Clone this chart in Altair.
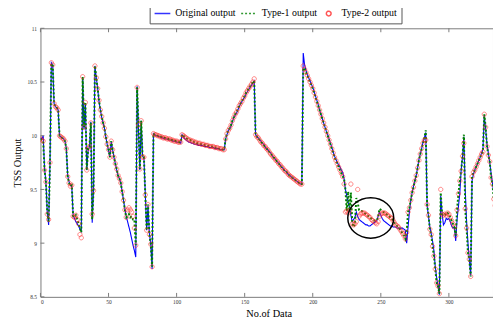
import altair as alt
import pandas as pd

# ---------------- data ----------------
x_values = list(range(335))

original = [
    9.98, 9.97, 10.00, 9.70, 9.57, 9.29, 9.17, 9.75, 10.68, 10.66,
    10.30, 10.27, 10.26, 10.24, 10.00, 9.99, 9.98, 9.97, 9.95, 9.88,
    9.63, 9.57, 9.54, 9.53, 9.26, 9.23, 9.20, 9.18, 9.16, 9.13,
    9.11, 10.54, 10.06, 10.30, 9.68, 9.86, 9.90, 10.13, 9.19, 9.50,
    10.65, 10.54, 10.44, 10.32, 10.24, 10.17, 10.12, 10.07, 9.99, 9.92,
    9.86, 9.81, 9.94, 9.87, 9.80, 9.74, 9.68, 9.63, 9.60, 9.56,
    9.48, 9.40, 9.32, 9.25, 9.20, 9.15, 9.10, 9.04, 8.98, 8.93,
    8.87, 10.46, 10.06, 9.68, 10.14, 9.81, 9.79, 9.46, 9.12, 9.35,
    9.09, 8.99, 8.76, 10.02, 10.01, 10.00, 10.00, 9.99, 9.99, 9.98,
    9.98, 9.97, 9.97, 9.97, 9.96, 9.96, 9.96, 9.95, 9.95, 9.95,
    9.94, 9.94, 9.94, 9.93, 10.01, 9.99, 9.97, 9.96, 9.95, 9.94,
    9.94, 9.93, 9.93, 9.92, 9.92, 9.92, 9.91, 9.91, 9.91, 9.91,
    9.90, 9.90, 9.90, 9.90, 9.89, 9.89, 9.89, 9.89, 9.88, 9.88,
    9.88, 9.88, 9.87, 9.87, 9.87, 9.87, 9.97, 10.01, 10.05, 10.07,
    10.09, 10.13, 10.17, 10.19, 10.21, 10.24, 10.27, 10.30, 10.32, 10.34,
    10.36, 10.39, 10.41, 10.43, 10.45, 10.47, 10.49, 10.51, 10.01, 9.99,
    9.98, 9.96, 9.95, 9.93, 9.92, 9.90, 9.88, 9.87, 9.85, 9.84,
    9.82, 9.80, 9.79, 9.77, 9.76, 9.74, 9.73, 9.71, 9.70, 9.68,
    9.67, 9.66, 9.64, 9.63, 9.62, 9.61, 9.60, 9.59, 9.58, 9.57,
    9.56, 9.55, 9.55, 10.77, 10.66, 10.61, 10.57, 10.54, 10.51, 10.48,
    10.45, 10.41, 10.37, 10.33, 10.29, 10.24, 10.20, 10.16, 10.12, 10.08,
    10.04, 10.01, 9.97, 9.93, 9.89, 9.85, 9.81, 9.78, 9.75, 9.73,
    9.71, 9.68, 9.66, 9.60, 9.50, 9.44, 9.38, 9.33, 9.26, 9.20,
    9.22, 9.24, 9.29, 9.25, 9.22, 9.21, 9.20, 9.19, 9.18, 9.17,
    9.17, 9.16, 9.16, 9.17, 9.18, 9.19, 9.20, 9.21, 9.25, 9.29,
    9.26, 9.23, 9.21, 9.20, 9.19, 9.18, 9.17, 9.16, 9.16, 9.15,
    9.15, 9.15, 9.14, 9.14, 9.14, 9.14, 9.14, 9.13, 9.12, 9.00,
    9.15, 9.29, 9.40, 9.47, 9.53, 9.58, 9.63, 9.70, 9.78, 9.83,
    9.88, 9.94, 9.98, 10.03, 9.35, 9.25, 9.15, 9.09, 9.02, 8.93,
    8.78, 8.68, 8.60, 8.52, 9.44, 9.28, 9.17, 9.19, 9.23, 9.22,
    9.23, 9.20, 9.16, 9.14, 9.15, 9.02, 9.22, 9.34, 9.46, 9.68,
    9.80, 9.99, 9.50, 9.20, 9.00, 8.85, 8.70, 9.58, 9.64, 9.68,
    9.71, 9.74, 9.77, 9.80, 9.84, 9.87, 10.19, 10.06, 9.92, 9.84,
    9.75, 9.65, 9.56, 9.46, 9.38,
]

type1 = [
    9.97, 9.96, 9.95, 9.68, 9.57, 9.28, 9.20, 9.75, 10.67, 10.66,
    10.30, 10.27, 10.26, 10.24, 10.00, 9.99, 9.98, 9.97, 9.95, 9.88,
    9.62, 9.56, 9.53, 9.54, 9.25, 9.24, 9.26, 9.22, 9.18, 9.14,
    9.10, 10.55, 10.08, 10.31, 9.68, 9.88, 9.90, 10.12, 9.22, 9.49,
    10.65, 10.54, 10.44, 10.33, 10.24, 10.18, 10.12, 10.07, 9.99, 9.92,
    9.87, 9.80, 9.95, 9.87, 9.80, 9.74, 9.69, 9.63, 9.60, 9.56,
    9.48, 9.40, 9.31, 9.24, 9.25, 9.27, 9.24, 9.25, 9.22, 9.22,
    8.98, 10.45, 10.10, 9.69, 10.14, 9.80, 9.80, 9.45, 9.12, 9.36,
    9.08, 8.99, 8.78, 10.02, 10.01, 10.01, 10.00, 10.00, 9.99, 9.99,
    9.98, 9.98, 9.98, 9.97, 9.97, 9.97, 9.96, 9.96, 9.95, 9.95,
    9.95, 9.94, 9.94, 9.94, 10.01, 10.00, 9.99, 9.98, 9.97, 9.96,
    9.96, 9.95, 9.95, 9.94, 9.94, 9.93, 9.93, 9.93, 9.92, 9.92,
    9.92, 9.91, 9.91, 9.91, 9.90, 9.90, 9.90, 9.90, 9.89, 9.89,
    9.89, 9.88, 9.88, 9.88, 9.87, 9.87, 9.97, 10.02, 10.05, 10.07,
    10.10, 10.14, 10.17, 10.20, 10.22, 10.25, 10.28, 10.30, 10.32, 10.35,
    10.37, 10.40, 10.42, 10.44, 10.46, 10.48, 10.50, 10.51, 10.01, 9.99,
    9.98, 9.96, 9.94, 9.93, 9.91, 9.90, 9.88, 9.87, 9.85, 9.83,
    9.82, 9.80, 9.79, 9.77, 9.76, 9.74, 9.73, 9.71, 9.70, 9.68,
    9.67, 9.66, 9.64, 9.63, 9.62, 9.61, 9.60, 9.59, 9.58, 9.57,
    9.56, 9.55, 9.55, 10.63, 10.62, 10.59, 10.56, 10.53, 10.50, 10.47,
    10.44, 10.40, 10.36, 10.32, 10.28, 10.24, 10.20, 10.16, 10.12, 10.08,
    10.04, 10.00, 9.96, 9.92, 9.88, 9.84, 9.80, 9.77, 9.74, 9.71,
    9.68, 9.65, 9.62, 9.60, 9.50, 9.30, 9.48, 9.29, 9.47, 9.20,
    9.15, 9.18, 9.42, 9.38, 9.31, 9.30, 9.30, 9.29, 9.28, 9.27,
    9.26, 9.25, 9.24, 9.23, 9.22, 9.21, 9.21, 9.21, 9.24, 9.32,
    9.31, 9.30, 9.29, 9.28, 9.27, 9.26, 9.25, 9.24, 9.23, 9.21,
    9.19, 9.17, 9.16, 9.15, 9.13, 9.11, 9.09, 9.07, 9.04, 9.10,
    9.29, 9.33, 9.40, 9.47, 9.52, 9.58, 9.63, 9.70, 9.77, 9.83,
    9.88, 9.93, 9.98, 10.05, 9.36, 9.26, 9.13, 9.08, 8.97, 8.88,
    8.76, 8.63, 8.60, 8.53, 9.47, 9.27, 9.26, 9.27, 9.26, 9.28,
    9.27, 9.24, 9.21, 9.18, 9.15, 9.07, 9.31, 9.46, 9.58, 9.67,
    9.81, 10.01, 9.32, 9.14, 8.91, 8.85, 8.69, 9.62, 9.66, 9.68,
    9.71, 9.74, 9.77, 9.80, 9.83, 9.85, 10.20, 10.08, 9.90, 9.82,
    9.76, 9.61, 9.55, 9.41, 9.35,
]

type2 = [
    9.97, 9.96, 9.95, 9.68, 9.57, 9.27, 9.22, 9.75, 10.68, 10.66,
    10.30, 10.27, 10.26, 10.24, 10.00, 9.99, 9.98, 9.97, 9.95, 9.88,
    9.62, 9.56, 9.53, 9.54, 9.25, 9.24, 9.26, 9.22, 9.18, 9.08,
    9.05, 10.55, 10.08, 10.31, 9.68, 9.88, 9.90, 10.12, 9.27, 9.49,
    10.65, 10.54, 10.44, 10.33, 10.24, 10.18, 10.12, 10.07, 9.99, 9.92,
    9.87, 9.80, 9.95, 9.87, 9.80, 9.74, 9.69, 9.63, 9.60, 9.56,
    9.48, 9.40, 9.31, 9.24, 9.31, 9.33, 9.31, 9.29, 9.25, 9.14,
    8.98, 10.45, 10.10, 9.69, 10.14, 9.80, 9.80, 9.45, 9.12, 9.36,
    9.08, 8.99, 8.78, 10.02, 10.01, 10.01, 10.00, 10.00, 9.99, 9.99,
    9.98, 9.98, 9.98, 9.97, 9.97, 9.97, 9.96, 9.96, 9.95, 9.95,
    9.95, 9.94, 9.94, 9.94, 10.01, 10.00, 9.99, 9.98, 9.97, 9.96,
    9.96, 9.95, 9.95, 9.94, 9.94, 9.93, 9.93, 9.93, 9.92, 9.92,
    9.92, 9.91, 9.91, 9.91, 9.90, 9.90, 9.90, 9.90, 9.89, 9.89,
    9.89, 9.88, 9.88, 9.88, 9.87, 9.87, 9.97, 10.02, 10.05, 10.07,
    10.10, 10.14, 10.17, 10.20, 10.22, 10.25, 10.28, 10.30, 10.32, 10.35,
    10.37, 10.40, 10.42, 10.44, 10.46, 10.48, 10.50, 10.53, 10.01, 9.99,
    9.98, 9.96, 9.94, 9.93, 9.91, 9.90, 9.88, 9.87, 9.85, 9.83,
    9.82, 9.80, 9.79, 9.77, 9.76, 9.74, 9.73, 9.71, 9.70, 9.68,
    9.67, 9.66, 9.64, 9.63, 9.62, 9.61, 9.60, 9.59, 9.58, 9.57,
    9.56, 9.55, 9.55, 10.65, 10.62, 10.59, 10.56, 10.53, 10.50, 10.47,
    10.44, 10.40, 10.36, 10.32, 10.28, 10.24, 10.20, 10.16, 10.12, 10.08,
    10.04, 10.00, 9.96, 9.92, 9.88, 9.84, 9.80, 9.77, 9.74, 9.71,
    9.68, 9.65, 9.62, 9.55, 9.29, 9.30, 9.28, 9.30, 9.55, 9.18,
    9.17, 9.18, 9.20, 9.50, 9.25, 9.27, 9.28, 9.28, 9.28, 9.27,
    9.26, 9.25, 9.24, 9.22, 9.21, 9.20, 9.19, 9.18, 9.20, 9.25,
    9.27, 9.28, 9.28, 9.28, 9.27, 9.26, 9.25, 9.24, 9.23, 9.21,
    9.19, 9.17, 9.16, 9.15, 9.13, 9.11, 9.09, 9.07, 9.04, 9.10,
    9.29, 9.33, 9.40, 9.47, 9.52, 9.58, 9.63, 9.70, 9.77, 9.83,
    9.88, 9.93, 9.96, 9.96, 9.36, 9.26, 9.13, 9.08, 8.97, 8.88,
    8.76, 8.63, 8.60, 8.53, 9.50, 9.27, 9.26, 9.27, 9.26, 9.28,
    9.27, 9.24, 9.21, 9.18, 9.15, 9.07, 9.31, 9.46, 9.58, 9.67,
    9.81, 9.93, 9.32, 9.14, 8.91, 8.85, 8.69, 9.62, 9.66, 9.68,
    9.71, 9.74, 9.77, 9.80, 9.83, 9.85, 10.20, 10.08, 9.90, 9.82,
    9.76, 9.61, 9.55, 9.41, 9.35,
]

series_names = ["Original output", "Type-1 output", "Type-2 output"]
series_colors = ["#0000ff", "#008000", "#ff2a2a"]

x_ticks = [0, 50, 100, 150, 200, 250, 300]
y_ticks = [8.5, 9, 9.5, 10, 10.5, 11]

# highlighted region (ellipse annotation)
circle_x = [242.6]
circle_y = [9.234]

# ---------------- layout ----------------
W, H = 460, 273
FONT = "Liberation Serif"
GRAY = "#7a7a7a"

xs = alt.Scale(domain=[0, 332.4], nice=False, zero=False)
ys = alt.Scale(domain=[8.5, 11], nice=False, zero=False)

df_orig = pd.DataFrame({"x": x_values, "y": original, "series": series_names[0]})
df_t1 = pd.DataFrame({"x": x_values, "y": type1, "series": series_names[1]})
df_t2 = pd.DataFrame({"x": x_values, "y": type2, "series": series_names[2]})
df_xt = pd.DataFrame({"t": x_ticks})
df_yt = pd.DataFrame({"t": y_ticks})
df_circ = pd.DataFrame({"cx": circle_x, "cy": circle_y})

small_circle = "M -0.3 0 A 0.3 0.3 0 1 1 0.3 0 A 0.3 0.3 0 1 1 -0.3 0 Z"

leg = alt.Legend(
    title=None, orient="none", legendX=111, legendY=-28,
    direction="horizontal", strokeColor="#555555", padding=4,
    gridAlign="none",
    labelFont=FONT, labelFontSize=10, labelColor="black",
    labelOffset=4, columnPadding=2, symbolSize=256, symbolStrokeWidth=1.5,
)

color = alt.Color("series:N", scale=alt.Scale(domain=series_names, range=series_colors), legend=leg)
dash = alt.StrokeDash("series:N", scale=alt.Scale(domain=series_names, range=[[1, 0], [2, 2], [1, 0]]), legend=leg)
shape = alt.Shape("series:N", scale=alt.Scale(domain=series_names, range=["stroke", "stroke", small_circle]), legend=leg)

x_axis = alt.Axis(
    values=x_ticks, title="No.of Data", domain=False, ticks=False, grid=False,
    labelFont=FONT, labelFontSize=5.5, labelColor="#333333", labelPadding=3,
    titleFont=FONT, titleFontSize=10.5, titleFontWeight="normal", titleColor="black",
    titleX=232, titleY=20, titleBaseline="alphabetic",
)
y_axis = alt.Axis(
    values=y_ticks, title="TSS Output", domain=False, ticks=False, grid=False,
    labelFont=FONT, labelFontSize=5.5, labelColor="#333333", labelPadding=4,
    labelExpr="'' + datum.value",
    titleFont=FONT, titleFontSize=10.5, titleFontWeight="normal", titleColor="black",
    titleX=-20, titleBaseline="alphabetic",
)

orig_line = alt.Chart(df_orig).mark_line(strokeWidth=1.1, clip=True).encode(
    x=alt.X("x:Q", scale=xs, axis=x_axis),
    y=alt.Y("y:Q", scale=ys, axis=y_axis),
    color=color, strokeDash=dash,
)
t1_line = alt.Chart(df_t1).mark_line(strokeWidth=2, clip=True).encode(
    x=alt.X("x:Q", scale=xs), y=alt.Y("y:Q", scale=ys),
    color=color, strokeDash=dash,
)
t2_pts = alt.Chart(df_t2).mark_point(filled=False, size=210, strokeWidth=0.7, opacity=0.8, clip=True).encode(
    x=alt.X("x:Q", scale=xs), y=alt.Y("y:Q", scale=ys),
    color=color, shape=shape,
)

ellipse = alt.Chart(df_circ).mark_point(
    shape="M -1 0 A 1 0.878 0 1 1 1 0 A 1 0.878 0 1 1 -1 0 Z",
    size=2181, filled=False, stroke="black", strokeWidth=1.5, opacity=1,
).encode(x=alt.X("cx:Q", scale=xs), y=alt.Y("cy:Q", scale=ys))

tick_bottom = alt.Chart(df_xt).mark_rule(color=GRAY, strokeWidth=1).encode(
    x=alt.X("t:Q", scale=xs), y=alt.value(H), y2=alt.value(H - 4))
tick_top = alt.Chart(df_xt).mark_rule(color=GRAY, strokeWidth=1).encode(
    x=alt.X("t:Q", scale=xs), y=alt.value(0), y2=alt.value(4))
tick_left = alt.Chart(df_yt).mark_rule(color=GRAY, strokeWidth=1).encode(
    y=alt.Y("t:Q", scale=ys), x=alt.value(0), x2=alt.value(4))

chart = alt.layer(
    orig_line, t1_line, t2_pts, ellipse, tick_bottom, tick_top, tick_left
).properties(
    width=W, height=H,
    padding={"left": 33, "top": 18, "right": 0, "bottom": 28},
    autosize=alt.AutoSizeParams(type="none"),
    background="white",
).configure_view(stroke=GRAY, strokeWidth=1)

chart.save("out.html", embed_options={"renderer": "svg", "actions": False})
